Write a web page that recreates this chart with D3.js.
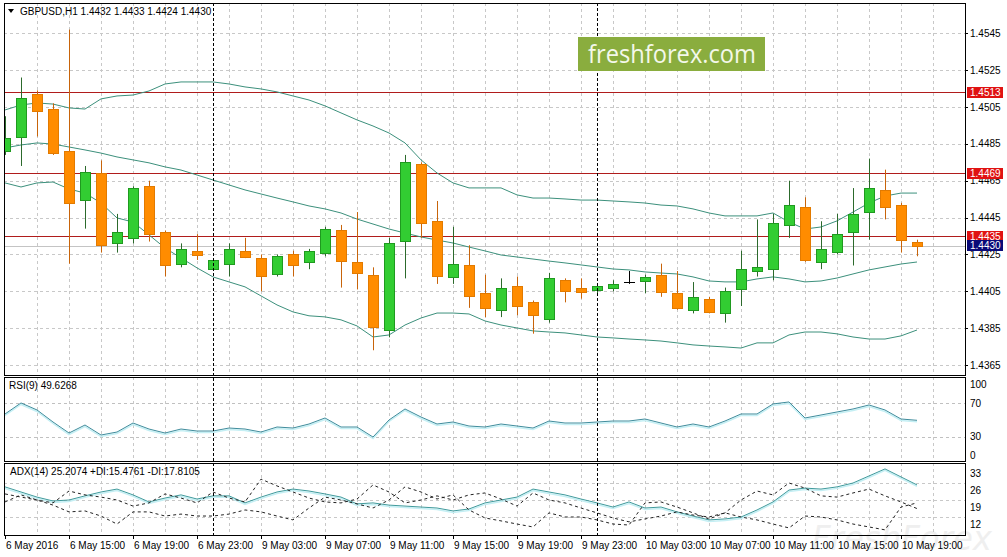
<!DOCTYPE html>
<html>
<head>
<meta charset="utf-8">
<script src="https://cdn.jsdelivr.net/npm/d3@7"></script>
<style>
  body { margin: 0; background: #fff; }
  svg { display: block; font-family: "Liberation Sans", Arial, sans-serif; }
</style>
</head>
<body>
<svg id="chart" width="1007" height="557"></svg>
<script>
// GBPUSD H1 candles, 6 May 11:00 -> 10 May 20:00
const opens  = [1.4481,1.4489,1.4512,1.4504,1.4481,1.4455,1.4469,1.4431,1.4434,1.4462,1.4437,1.4420,1.4427,1.4417,1.4420,1.4427,1.4423,1.4414,1.4425,1.4421,1.4426,1.4438,1.4421,1.4414,1.4384,1.4432,1.4474,1.4443,1.4413,1.4419,1.4404,1.4395,1.4408,1.4399,1.4390,1.4411,1.4407,1.4406,1.4407,1.4410,1.4411,1.4414,1.4404,1.4395,1.4401,1.4393,1.4406,1.4416,1.4417,1.4441,1.4451,1.4421,1.4426,1.4437,1.4448,1.4460,1.4452,1.4432]
const highs  = [1.4500,1.4521,1.4514,1.4507,1.4547,1.4473,1.4476,1.4447,1.4462,1.4465,1.4438,1.4431,1.4436,1.4423,1.4431,1.4434,1.4425,1.4425,1.4427,1.4428,1.4440,1.4441,1.4448,1.4418,1.4434,1.4479,1.4475,1.4454,1.4440,1.4430,1.4414,1.4412,1.4413,1.4400,1.4415,1.4412,1.4412,1.4409,1.4411,1.4416,1.4414,1.4420,1.4416,1.4410,1.4402,1.4407,1.4427,1.4444,1.4447,1.4465,1.4456,1.4443,1.4447,1.4461,1.4477,1.4471,1.4453,1.4433]
const lows   = [1.4479,1.4473,1.4489,1.4479,1.4420,1.4439,1.4426,1.4426,1.4431,1.4432,1.4413,1.4418,1.4422,1.4416,1.4413,1.4423,1.4405,1.4413,1.4413,1.4417,1.4424,1.4407,1.4406,1.4373,1.4380,1.4412,1.4434,1.4409,1.4409,1.4396,1.4391,1.4391,1.4392,1.4382,1.4388,1.4399,1.4401,1.4404,1.4405,1.4409,1.4404,1.4402,1.4395,1.4393,1.4393,1.4388,1.4397,1.4413,1.4411,1.4434,1.4421,1.4417,1.4425,1.4419,1.4433,1.4444,1.4426,1.4424]
const closes = [1.4488,1.4510,1.4503,1.4480,1.4453,1.4470,1.4430,1.4437,1.4461,1.4436,1.4419,1.4428,1.4425,1.4422,1.4428,1.4424,1.4413,1.4424,1.4419,1.4427,1.4439,1.4421,1.4415,1.4386,1.4431,1.4475,1.4442,1.4413,1.4420,1.4402,1.4396,1.4407,1.4397,1.4392,1.4412,1.4405,1.4405,1.4408,1.4409,1.4410,1.4413,1.4405,1.4396,1.4402,1.4394,1.4405,1.4417,1.4418,1.4442,1.4452,1.4422,1.4428,1.4436,1.4447,1.4461,1.4451,1.4433,1.4430]

// Bollinger bands
const bbUpper  = [1.45034,1.45061,1.45072,1.45066,1.45045,1.45039,1.45094,1.45110,1.45115,1.45137,1.45175,1.45186,1.45186,1.45186,1.45175,1.45159,1.45148,1.45132,1.45110,1.45088,1.45056,1.45018,1.44980,1.44947,1.44909,1.44855,1.44763,1.44692,1.44638,1.44611,1.44611,1.44611,1.44573,1.44556,1.44556,1.44551,1.44545,1.44545,1.44540,1.44535,1.44529,1.44518,1.44513,1.44497,1.44475,1.44459,1.44459,1.44459,1.44475,1.44426,1.44388,1.44399,1.44432,1.44480,1.44529,1.44567,1.44583,1.44583]
const bbMiddle = [1.44828,1.44844,1.44855,1.44849,1.44833,1.44817,1.44800,1.44779,1.44763,1.44747,1.44725,1.44708,1.44681,1.44654,1.44627,1.44600,1.44578,1.44556,1.44535,1.44513,1.44497,1.44475,1.44442,1.44415,1.44388,1.44366,1.44345,1.44328,1.44312,1.44290,1.44269,1.44247,1.44236,1.44225,1.44214,1.44204,1.44193,1.44182,1.44171,1.44166,1.44155,1.44149,1.44144,1.44128,1.44106,1.44101,1.44101,1.44117,1.44128,1.44117,1.44101,1.44106,1.44122,1.44144,1.44166,1.44182,1.44198,1.44209]
const bbLower  = [1.44638,1.44616,1.44638,1.44643,1.44605,1.44583,1.44529,1.44448,1.44426,1.44356,1.44285,1.44231,1.44177,1.44128,1.44101,1.44074,1.44025,1.43976,1.43938,1.43917,1.43911,1.43895,1.43862,1.43802,1.43813,1.43867,1.43905,1.43932,1.43932,1.43927,1.43889,1.43867,1.43851,1.43835,1.43829,1.43824,1.43813,1.43802,1.43797,1.43791,1.43786,1.43780,1.43770,1.43759,1.43753,1.43748,1.43742,1.43770,1.43770,1.43813,1.43829,1.43829,1.43819,1.43802,1.43791,1.43791,1.43808,1.43840]

const rsi = [57.2,70.4,62.0,47.6,34.4,44.0,32.0,35.6,46.4,39.2,34.4,39.2,36.8,36.8,40.4,39.2,35.6,41.6,40.4,45.2,52.4,41.6,41.6,29.6,50.0,63.2,53.6,45.2,47.6,42.8,41.6,45.2,42.8,40.4,48.8,46.4,46.4,47.6,48.8,48.8,51.2,46.4,41.6,45.2,41.6,48.8,57.2,57.2,69.2,71.6,52.4,56.0,59.6,63.2,68.0,62.0,51.2,49.63]

const adx     = [24.4,22.3,20.2,18.6,19.0,20.7,22.3,23.5,21.1,18.2,19.8,21.1,19.4,20.7,20.7,17.8,20.2,22.3,23.5,22.7,21.5,20.2,17.4,17.8,16.9,16.5,16.1,15.7,14.5,15.3,17.8,19.0,20.2,23.5,22.3,21.1,19.4,17.8,16.1,18.2,15.7,16.1,14.1,12.4,10.8,11.2,12.0,14.9,18.2,23.1,23.9,23.5,24.4,26.0,28.9,31.8,28.5,25.21]
const plusDI  = [18.2,21.1,19.0,16.9,14.1,14.5,12.4,9.1,14.1,14.1,12.4,13.2,12.4,12.4,13.2,14.9,14.1,12.4,10.8,15.7,20.2,19.0,17.4,15.7,19.0,24.4,22.3,19.4,21.1,14.9,11.6,10.4,9.1,7.9,13.7,12.0,12.0,10.8,9.1,8.7,17.8,18.2,16.1,13.7,11.2,13.7,19.0,22.7,21.1,26.0,23.9,20.7,20.2,21.9,23.5,20.7,18.2,15.48]
const minusDI = [21.5,20.2,19.0,17.8,22.7,21.1,20.2,19.0,16.5,17.8,21.5,19.8,17.8,22.3,19.8,18.2,27.6,24.8,22.3,19.8,18.2,17.8,19.4,25.2,22.3,17.8,19.0,20.7,19.0,21.1,21.9,19.4,16.5,21.9,19.0,17.8,15.7,13.7,11.6,10.0,11.2,12.4,14.1,12.8,12.0,13.7,12.0,10.8,9.1,7.5,12.4,12.0,10.8,9.1,7.9,6.7,16.1,17.81]

// axis ticks
const priceTicks = [1.4545,1.4525,1.4505,1.4485,1.4465,1.4445,1.4425,1.4405,1.4385,1.4365]
const rsiTicks = [100,70,30,0]
const rsiLevels = [70,30]
const adxTicks = [33,26,19,12]
const adxGrid = [26,19,12]
const timeTickIdx = [0,4,8,12,16,20,24,28,32,36,40,44,48,52,56]
const timeTickLabels = ["6 May 2016","6 May 15:00","6 May 19:00","6 May 23:00","9 May 03:00","9 May 07:00","9 May 11:00","9 May 15:00","9 May 19:00","9 May 23:00","10 May 03:00","10 May 07:00","10 May 11:00","10 May 15:00","10 May 19:00"]
const daySeparators = [13, 37]   // 9 May 00:00, 10 May 00:00
const levelLines = [1.4513, 1.4469, 1.4435]
const bid = 1.4430

const svg = d3.select("#chart")
const left = 4, right = 965
const mainP = {top: 3, bottom: 375}
const rsiP = {top: 377, bottom: 461}
const adxP = {top: 463, bottom: 535}

const x = d3.scaleLinear().domain([0, 57]).range([5, 917])
const y = d3.scaleLinear().domain([1.4365, 1.4545]).range([365, 33.3])
const yR = d3.scaleLinear().domain([0, 100]).range([461.75, 378.25])
const yA = d3.scaleLinear().domain([12, 26]).range([517, 483])

const px = v => Math.round(v) + 0.5

// clip paths
const defs = svg.append("defs")
const panels = {main: mainP, rsi: rsiP, adx: adxP}
Object.entries(panels).forEach(([k, p]) => {
  defs.append("clipPath").attr("id", "clip-" + k)
    .append("rect").attr("x", left + 1).attr("y", p.top + 1)
    .attr("width", right - left - 1).attr("height", p.bottom - p.top - 1)
})

// watermark (very faint)
svg.append("text").attr("x", 812).attr("y", 550)
  .attr("font-family", "DejaVu Sans").attr("font-style", "italic")
  .attr("font-size", 34).attr("textLength", 180).attr("lengthAdjust", "spacingAndGlyphs")
  .attr("fill", "#efefef").text("FreshForex")

// vertical grid through all panels
const gridIdx = d3.range(2, 59, 2)
Object.entries(panels).forEach(([k, p]) => {
  const g = svg.append("g").attr("clip-path", `url(#clip-${k})`)
  g.selectAll("line.vg").data(gridIdx).join("line")
    .attr("x1", d => px(x(d))).attr("x2", d => px(x(d)))
    .attr("y1", p.top).attr("y2", p.bottom)
    .attr("stroke", "#c8c8c8").attr("stroke-dasharray", "3,3")
})

// horizontal grid
const mainG = svg.append("g").attr("clip-path", "url(#clip-main)")
mainG.selectAll("line.hg").data(priceTicks).join("line")
  .attr("x1", left).attr("x2", right)
  .attr("y1", d => px(y(d))).attr("y2", d => px(y(d)))
  .attr("stroke", "#c8c8c8").attr("stroke-dasharray", "3,3")

const rsiG = svg.append("g").attr("clip-path", "url(#clip-rsi)")
rsiG.selectAll("line").data(rsiLevels).join("line")
  .attr("x1", left).attr("x2", right)
  .attr("y1", d => px(yR(d))).attr("y2", d => px(yR(d)))
  .attr("stroke", "#c0c0c0").attr("stroke-dasharray", "3,3")

const adxG = svg.append("g").attr("clip-path", "url(#clip-adx)")
adxG.selectAll("line").data(adxGrid).join("line")
  .attr("x1", left).attr("x2", right)
  .attr("y1", d => px(yA(d))).attr("y2", d => px(yA(d)))
  .attr("stroke", "#c8c8c8").attr("stroke-dasharray", "3,3")

// day separators
svg.selectAll("line.sep").data(daySeparators).join("line")
  .attr("x1", d => px(x(d))).attr("x2", d => px(x(d)))
  .attr("y1", mainP.top).attr("y2", adxP.bottom)
  .attr("stroke", "#000").attr("stroke-dasharray", "3,2")

// logo
svg.append("rect").attr("x", 578).attr("y", 37).attr("width", 187).attr("height", 34).attr("fill", "#8aad3e")
svg.append("text").attr("x", 588).attr("y", 63)
  .attr("font-family", "'Open Sans', 'DejaVu Sans', sans-serif").attr("font-size", 25)
  .attr("textLength", 168).attr("lengthAdjust", "spacingAndGlyphs")
  .attr("fill", "#f4f8ea").text("freshforex.com")

// level lines and bid line
mainG.selectAll("line.lvl").data(levelLines).join("line")
  .attr("x1", left).attr("x2", right)
  .attr("y1", d => px(y(d))).attr("y2", d => px(y(d)))
  .attr("stroke", "#b01c1c")
mainG.append("line").attr("x1", left).attr("x2", right)
  .attr("y1", px(y(bid)) + 1).attr("y2", px(y(bid)) + 1).attr("stroke", "#c4c4c4")

// Bollinger bands
const idx = d3.range(opens.length)
const bandColor = "#3c907c"
;[bbUpper, bbMiddle, bbLower].forEach(band => {
  mainG.append("path").datum(idx)
    .attr("fill", "none").attr("stroke", bandColor).attr("stroke-width", 1)
    .attr("d", d3.line().x(i => x(i)).y(i => y(band[i])))
})

// candles
const upFill = "#32cd32", upStroke = "#1f9a1f", upWick = "#2c6a2c"
const dnFill = "#ff8c00", dnStroke = "#e27a00", dnWick = "#c8640a"
const candle = mainG.selectAll("g.c").data(idx).join("g")
candle.append("line")
  .attr("x1", i => px(x(i))).attr("x2", i => px(x(i)))
  .attr("y1", i => y(highs[i])).attr("y2", i => y(lows[i]))
  .attr("stroke", i => closes[i] > opens[i] ? upWick : closes[i] < opens[i] ? dnWick : "#000")
candle.filter(i => closes[i] !== opens[i]).append("rect")
  .attr("x", i => Math.round(x(i)) - 4.5).attr("width", 10)
  .attr("y", i => Math.round(y(Math.max(opens[i], closes[i]))) + 0.5)
  .attr("height", i => Math.max(1, Math.round(y(Math.min(opens[i], closes[i])) - y(Math.max(opens[i], closes[i])))))
  .attr("fill", i => closes[i] > opens[i] ? upFill : dnFill)
  .attr("stroke", i => closes[i] > opens[i] ? upStroke : dnStroke)
candle.filter(i => closes[i] === opens[i]).append("line")
  .attr("x1", i => Math.round(x(i)) - 5).attr("x2", i => Math.round(x(i)) + 6)
  .attr("y1", i => px(y(opens[i]))).attr("y2", i => px(y(opens[i])))
  .attr("stroke", "#000")

// RSI
const rsiLine = d3.line().x(i => x(i)).y(i => yR(rsi[i]))
rsiG.append("path").datum(idx).attr("fill", "none").attr("stroke", "#c4eff4").attr("stroke-width", 1.5)
  .attr("transform", "translate(0,1.5)").attr("d", rsiLine)
rsiG.append("path").datum(idx).attr("fill", "none").attr("stroke", "#3f8c9c").attr("stroke-width", 1).attr("d", rsiLine)

// ADX
const adxLine = d3.line().x(i => x(i)).y(i => yA(adx[i]))
adxG.append("path").datum(idx).attr("fill", "none").attr("stroke", "#c4eff4").attr("stroke-width", 1.5)
  .attr("transform", "translate(0,1.5)").attr("d", adxLine)
adxG.append("path").datum(idx).attr("fill", "none").attr("stroke", "#3f9a9c").attr("stroke-width", 1).attr("d", adxLine)
;[plusDI, minusDI].forEach(s => {
  adxG.append("path").datum(idx).attr("fill", "none").attr("stroke", "#222").attr("stroke-width", 1)
    .attr("stroke-dasharray", "3,3")
    .attr("d", d3.line().x(i => x(i)).y(i => yA(s[i])))
})

// frames
Object.values(panels).forEach(p => {
  svg.append("rect").attr("x", left + 0.5).attr("y", p.top + 0.5)
    .attr("width", right - left).attr("height", p.bottom - p.top)
    .attr("fill", "none").attr("stroke", "#000")
})

// panel titles
svg.append("path").attr("d", "M8,9 L14,9 L11,13 Z").attr("fill", "#000")
svg.append("text").attr("x", 20).attr("y", 15).attr("font-size", 10).attr("fill", "#000")
  .text("GBPUSD,H1  1.4432 1.4433 1.4424 1.4430")
svg.append("text").attr("x", 9).attr("y", 389).attr("font-size", 10).attr("fill", "#000")
  .text("RSI(9) 49.6268")
svg.append("text").attr("x", 10).attr("y", 475).attr("font-size", 10).attr("fill", "#000")
  .text("ADX(14) 25.2074 +DI:15.4761 -DI:17.8105")

// right axis labels
const axisX = 970
svg.selectAll("text.pt").data(priceTicks).join("text")
  .attr("x", axisX).attr("y", d => y(d)).attr("dy", "0.35em")
  .attr("font-size", 10).attr("fill", "#000").text(d => d.toFixed(4))
svg.selectAll("line.ptk").data(priceTicks).join("line")
  .attr("x1", right).attr("x2", right + 3)
  .attr("y1", d => px(y(d))).attr("y2", d => px(y(d))).attr("stroke", "#000")
svg.selectAll("text.rt").data(rsiTicks).join("text")
  .attr("x", axisX).attr("y", d => Math.min(Math.max(yR(d), rsiP.top + 7), rsiP.bottom - 6)).attr("dy", "0.35em")
  .attr("font-size", 10).attr("fill", "#000").text(d => d)
svg.selectAll("text.at").data(adxTicks).join("text")
  .attr("x", axisX).attr("y", d => Math.max(yA(d) + 7.5, adxP.top + 7.5)).attr("dy", "0.35em")
  .attr("font-size", 10).attr("fill", "#000").text(d => d)

// price boxes
const boxes = levelLines.map(v => ({v, c: "#e01212"})).concat([{v: bid, c: "#0a0a78"}])
const bx = svg.selectAll("g.box").data(boxes).join("g")
  .attr("transform", d => `translate(967,${Math.round(y(d.v)) - 5})`)
bx.append("rect").attr("width", 36).attr("height", 11).attr("fill", d => d.c)
bx.append("text").attr("x", 3).attr("y", 5.5).attr("dy", "0.35em")
  .attr("font-size", 10).attr("fill", "#fff").text(d => d.v.toFixed(4))

// time axis
svg.selectAll("line.tt").data(timeTickIdx).join("line")
  .attr("x1", i => px(x(i))).attr("x2", i => px(x(i)))
  .attr("y1", adxP.bottom).attr("y2", adxP.bottom + 4).attr("stroke", "#000")
svg.selectAll("text.tl").data(timeTickIdx).join("text")
  .attr("x", i => Math.round(x(i)) + 1).attr("y", 549)
  .attr("font-size", 10).attr("fill", "#000").text((i, k) => timeTickLabels[k])
</script>
</body>
</html>
